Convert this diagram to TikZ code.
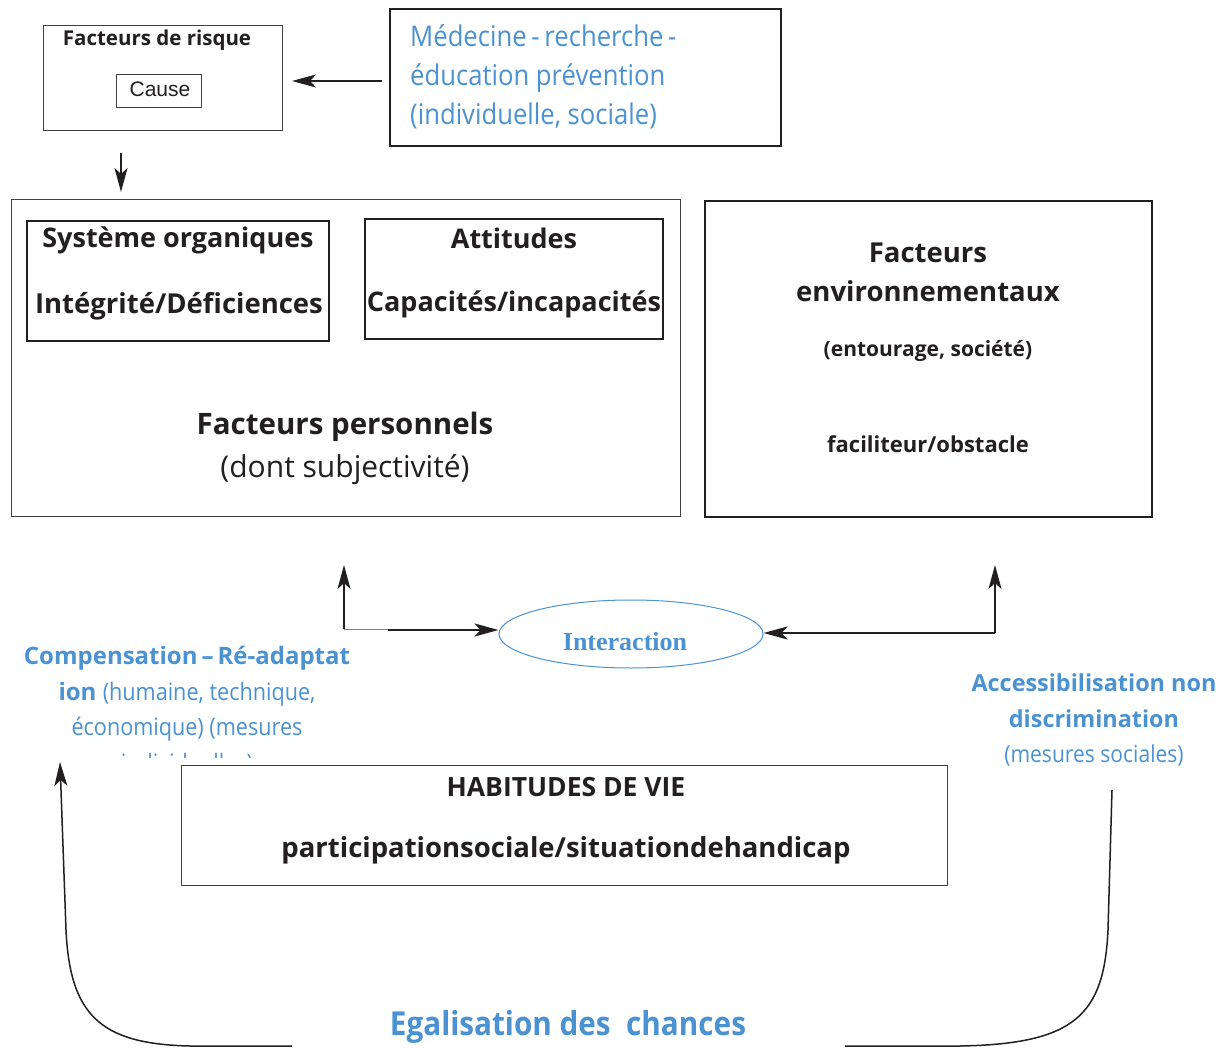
\documentclass[tikz,border=0pt]{standalone}
\usepackage{fontspec}
\setmainfont{Open Sans}
\newfontfamily\etroit{Open Sans}[FakeStretch=0.9]
\newfontfamily\arial{Liberation Sans}
\newfontfamily\serifb{Liberation Serif}
\usetikzlibrary{shapes.geometric,arrows.meta}
\definecolor{bleu}{HTML}{4A92D2}
\definecolor{trait}{HTML}{231F20}
\tikzset{
  fin/.style={draw=trait!85,line width=0.9pt},
  epais/.style={draw=trait,line width=1.8pt},
  fleche/.style={-{Stealth[length=24pt,width=13pt,inset=6pt]},draw=trait,line width=1.5pt},
  flechegrasse/.style={fleche,line width=2.6pt},
  titre/.style={font=\bfseries,text=trait,inner sep=0pt},
  texte/.style={text=trait,inner sep=0pt},
}
\begin{document}
\begin{tikzpicture}[x=1pt,y=-1pt]
\useasboundingbox[fill=white] (0,0) rectangle (1226,1048);

% Facteurs de risque
\draw[fin] (43,25) rectangle (282,130);
\node[titre,font=\fontsize{20.5}{24}\selectfont\bfseries] (risque) at (157,40) {Facteurs de risque};
\draw[fin] (116,74) rectangle (201,107);
\node[texte,font=\arial\fontsize{21}{24}\selectfont] (cause) at (160,89) {Cause};
\coordinate (risqueD) at (292,81);
\coordinate (risqueB) at (121,153);
\coordinate (persoH) at (121,192);

% Medecine - recherche
\draw[epais] (390,9) rectangle (781,146);
\node[anchor=west,text=bleu,inner sep=0pt,align=left,font=\etroit\fontsize{28.5}{39}\selectfont] (med) at (410,77)
  {Médecine\,-\,recherche\,-\\éducation prévention\\(individuelle, sociale)};
\coordinate (medG) at (382,81);
\draw[flechegrasse,line width=2.2pt] (medG) -- (risqueD);
\draw[fleche] (risqueB) -- (persoH);

% Facteurs personnels
\draw[fin] (11,199) rectangle (680,516);
\draw[epais] (27,221) rectangle (329,341);
\node[titre,font=\fontsize{27}{30}\selectfont\bfseries] (sys) at (178,240) {Système organiques};
\node[titre,font=\fontsize{27.5}{30}\selectfont\bfseries] (integ) at (179,306) {Intégrité/Déficiences};
\draw[epais] (365,219) rectangle (663,339);
\node[titre,font=\fontsize{27}{30}\selectfont\bfseries] (att) at (514,238) {Attitudes};
\node[titre,font=\fontsize{27}{30}\selectfont\bfseries] (cap) at (514,304) {Capacités/incapacités};
\node[titre,font=\fontsize{29.5}{34}\selectfont\bfseries] (perso) at (345,427) {Facteurs personnels};
\node[texte,font=\fontsize{30}{34}\selectfont] (subj) at (345,470) {(dont subjectivité)};

% Facteurs environnementaux
\draw[epais] (705,201) rectangle (1152,517);
\node[titre,align=center,font=\fontsize{27.5}{39}\selectfont\bfseries] (env) at (928,272) {Facteurs\\environnementaux};
\node[titre,font=\fontsize{21}{24}\selectfont\bfseries] (entour) at (928,351) {(entourage, société)};
\node[titre,font=\fontsize{22}{24}\selectfont\bfseries] (facil) at (928,444) {faciliteur/obstacle};

% Interaction
\node[ellipse,draw=bleu,line width=1pt,minimum width=264pt,minimum height=68pt,inner sep=0pt] (inter) at (631,634) {};
\node[text=bleu,font=\serifb\fontsize{26}{28}\selectfont\bfseries] at (625,642) {Interaction};

\coordinate (coinG) at (344,629);
\coordinate (hautG) at (344,565);
\coordinate (milG) at (388,630);
\draw[draw=gray,line width=0.6pt] (coinG) -- (388,629);
\draw[fleche] (coinG) -- (hautG);
\draw[flechegrasse] (milG) -- (milG -| inter.west);
\coordinate (coinD) at (995,633);
\coordinate (hautD) at (995,565);
\draw[flechegrasse] (coinD) -- (coinD -| inter.east);
\draw[fleche] (coinD) -- (hautD);

% Compensation - Re-adaptation
\begin{scope}
\clip (0,640) rectangle (400,757);
\node[text=bleu,inner sep=0pt,align=center,font=\fontsize{24}{35.5}\selectfont,anchor=north] (comp) at (187,646)
  {\textbf{Compensation\,–\,Ré-adaptat}\\\textbf{ion} {\etroit(humaine, technique,}\\{\etroit économique) (mesures}\\{\etroit individuelles)}};
\end{scope}

% Accessibilisation
\node[text=bleu,inner sep=0pt,align=center,font=\fontsize{23.4}{35.5}\selectfont,anchor=north] (acc) at (1094,674)
  {\textbf{Accessibilisation non}\\\textbf{discrimination}\\{\etroit(mesures sociales)}};

% Habitudes de vie
\draw[fin] (181,765) rectangle (947,885);
\node[titre,font=\fontsize{26.5}{30}\selectfont\bfseries] (hab) at (566,787) {HABITUDES DE VIE};
\node[titre,font=\fontsize{27.5}{30}\selectfont\bfseries] (part) at (566,850) {participationsociale/situationdehandicap};

% Egalisation des chances
\node[text=bleu,inner sep=0pt,font=\etroit\fontsize{33}{38}\selectfont\bfseries] (egal) at (568,1027) {Egalisation des\ \ chances};
\coordinate (egG) at (292,1046);
\coordinate (egD) at (845,1046);
\coordinate (compB) at (60,762);
\coordinate (accB) at (1112,790);
\draw[fleche,line width=1.5pt] (egG) -- (190,1046) .. controls (100,1044) and (70,1015) .. (66,930)
  -- (compB);
\draw[draw=trait,line width=1.5pt] (egD) -- (960,1046) .. controls (1075,1044) and (1104,1015) .. (1108,930)
  -- (accB);
\end{tikzpicture}
\end{document}
